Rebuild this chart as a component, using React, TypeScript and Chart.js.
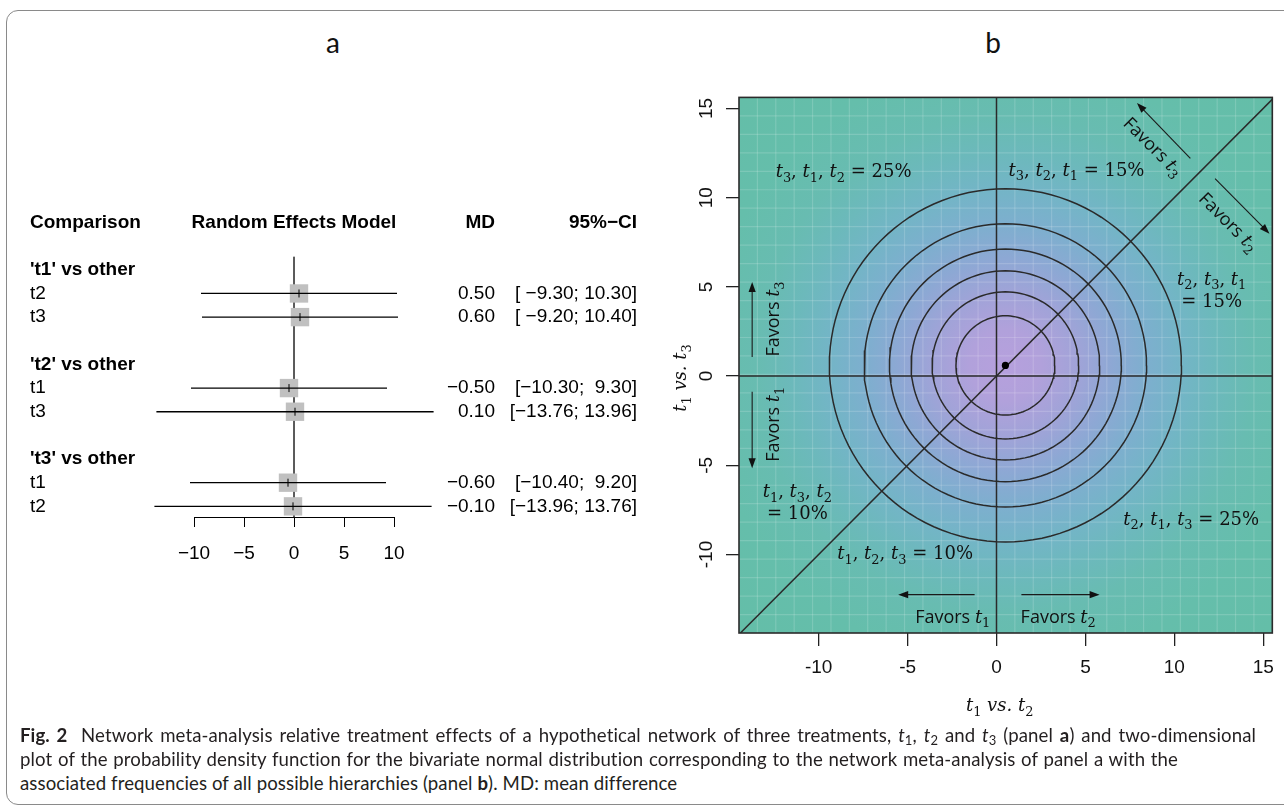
import React, { useEffect, useRef } from 'react';
import { Chart, registerables } from 'chart.js';
Chart.register(...registerables);

// ---------------- Panel a data (forest plot) ----------------
const groupTitles = ["'t1' vs other", "'t2' vs other", "'t3' vs other"];
const rowLabels = ['t2', 't3', 't1', 't3', 't1', 't2'];
const md = [0.5, 0.6, -0.5, 0.1, -0.6, -0.1];
const ciLow = [-9.3, -9.2, -10.3, -13.76, -10.4, -13.96];
const ciHigh = [10.3, 10.4, 9.3, 13.96, 9.2, 13.76];
const forestTicks = [-10, -5, 0, 5, 10];
const forestHeaders = ['Comparison', 'Random Effects Model', 'MD', '95%\u2212CI'];

// ---------------- Panel b data (bivariate density) ----------------
const meanT1vsT2 = 0.5;
const meanT1vsT3 = 0.6;
const contourRadii = [2.78, 4.12, 5.3, 6.52, 7.94, 9.9];
const densityTicks = [-10, -5, 0, 5, 10, 15];
const hierarchies = [
  ['t3', 't1', 't2'],
  ['t3', 't2', 't1'],
  ['t2', 't3', 't1'],
  ['t1', 't3', 't2'],
  ['t2', 't1', 't3'],
  ['t1', 't2', 't3'],
];
const hierarchyFreq = [25, 15, 15, 10, 25, 10];
const favorsLabels = ['Favors t_3', 'Favors t_1', 'Favors t_1', 'Favors t_2', 'Favors t_3', 'Favors t_2'];

// ---------------- layout (positions, not data) ----------------
const A_ROWS = { min: -1.824, max: 11.45 };
const B_RANGE = { xMin: -14.48, xMax: 15.51, yMin: -14.4, yMax: 15.62 };
const hierPos = [
  { x: -8.6, y: 11.5, split: false },
  { x: 4.5, y: 11.6, split: false },
  { x: 12.1, y: 4.85, split: true },
  { x: -11.2, y: -7.05, split: true },
  { x: 10.95, y: -7.98, split: false },
  { x: -5.14, y: -9.9, split: false },
];
const favorsPos = [
  { tx: -12.57, ty: 3.2, rot: -90, x1: -13.74, y1: 1.07, x2: -13.74, y2: 5.28 },
  { tx: -12.57, ty: -2.7, rot: -90, x1: -13.74, y1: -0.88, x2: -13.74, y2: -5.17 },
  { tx: -2.46, ty: -13.48, rot: 0, x1: -1.23, y1: -12.25, x2: -5.53, y2: -12.25 },
  { tx: 3.47, ty: -13.48, rot: 0, x1: 1.4, y1: -12.25, x2: 5.8, y2: -12.25 },
  { tx: 8.83, ty: 12.87, rot: 45, x1: 10.9, y1: 12.2, x2: 7.9, y2: 15.3 },
  { tx: 13.07, ty: 8.65, rot: 45, x1: 12.29, y1: 11.07, x2: 15.35, y2: 7.98 },
];

const MATH_FAM = '"DejaVu Serif"';
const SANS_FAM = '"Open Sans"';
const R_FAM = '"Liberation Sans", Arial, sans-serif';

type Seg = { t: string; math?: boolean; it?: boolean; sub?: boolean };

function parseMath(s: string): Seg[] {
  const out: Seg[] = [];
  let i = 0;
  while (i < s.length) {
    if (s[i] === 't' && s[i + 1] === '_') {
      out.push({ t: 't', math: true, it: true });
      out.push({ t: s[i + 2], math: true, sub: true });
      i += 3;
    } else {
      let j = i;
      while (j < s.length && !(s[j] === 't' && s[j + 1] === '_')) j++;
      out.push({ t: s.slice(i, j) });
      i = j;
    }
  }
  return out;
}

function drawRich(
  ctx: CanvasRenderingContext2D,
  segs: Seg[],
  cx: number,
  cy: number,
  size: number,
  plainFam: string,
  plainItalic = false
) {
  const fontOf = (s: Seg) => {
    const sz = s.sub ? size * 0.72 : size;
    const fam = s.math ? MATH_FAM : plainFam;
    const it = s.it || (!s.math && plainItalic) ? 'italic ' : '';
    return `${it}${sz}px ${fam}`;
  };
  const widths = segs.map((s) => {
    ctx.font = fontOf(s);
    return ctx.measureText(s.t).width;
  });
  const total = widths.reduce((a, b) => a + b, 0);
  let x = cx - total / 2;
  const base = cy + size * 0.36;
  ctx.textAlign = 'left';
  ctx.textBaseline = 'alphabetic';
  segs.forEach((s, k) => {
    ctx.font = fontOf(s);
    ctx.fillText(s.t, x, s.sub ? base + size * 0.24 : base);
    x += widths[k];
  });
}

function drawArrow(ctx: CanvasRenderingContext2D, x1: number, y1: number, x2: number, y2: number) {
  const a = Math.atan2(y2 - y1, x2 - x1);
  const L = 10;
  const W = 3.6;
  const c = Math.cos(a);
  const s = Math.sin(a);
  ctx.beginPath();
  ctx.moveTo(x1, y1);
  ctx.lineTo(x2 - c * L * 0.7, y2 - s * L * 0.7);
  ctx.stroke();
  ctx.beginPath();
  ctx.moveTo(x2, y2);
  ctx.lineTo(x2 - L * c + W * s, y2 - L * s - W * c);
  ctx.lineTo(x2 - L * c - W * s, y2 - L * s + W * c);
  ctx.closePath();
  ctx.fill();
}

const rowIndex = (i: number) => 4 * Math.floor(i / 2) + 2 + (i % 2);
const fmt = (v: number) => v.toFixed(2).replace('-', '\u2212');

function buildForest(canvas: HTMLCanvasElement) {
  const textPlugin = {
    id: 'forestText',
    afterDraw(chart: any) {
      const ctx: CanvasRenderingContext2D = chart.ctx;
      const ys = chart.scales.y;
      const xs = chart.scales.x;
      ctx.save();
      ctx.fillStyle = '#000';
      ctx.textBaseline = 'middle';
      const fs = 19;
      const hy = ys.getPixelForValue(-1);
      ctx.font = `bold ${fs}px ${R_FAM}`;
      ctx.textAlign = 'left';
      ctx.fillText(forestHeaders[0], 30, hy);
      ctx.textAlign = 'center';
      ctx.fillText(forestHeaders[1], xs.getPixelForValue(0), hy);
      ctx.textAlign = 'right';
      ctx.fillText(forestHeaders[2], 495, hy);
      ctx.fillText(forestHeaders[3], 637, hy);
      groupTitles.forEach((g, k) => {
        ctx.font = `bold ${fs}px ${R_FAM}`;
        ctx.textAlign = 'left';
        ctx.fillText(g, 30, ys.getPixelForValue(4 * k + 1));
      });
      ctx.font = `${fs}px ${R_FAM}`;
      rowLabels.forEach((lab, i) => {
        const y = ys.getPixelForValue(rowIndex(i));
        ctx.textAlign = 'left';
        ctx.fillText(lab, 30, y);
        ctx.textAlign = 'right';
        ctx.fillText(fmt(md[i]), 495, y);
        const ci = `[${fmt(ciLow[i]).padStart(6, ' ')}; ${fmt(ciHigh[i]).padStart(5, ' ')}]`;
        ctx.fillText(ci, 637, y);
      });
      ctx.restore();
    },
  };

  return new Chart(canvas, {
    type: 'scatter',
    data: {
      datasets: [
        {
          data: md.map((m, i) => ({ x: m, y: rowIndex(i) })),
          pointStyle: 'line',
          rotation: 90,
          pointRadius: 4,
          borderColor: '#000',
          borderWidth: 1,
          showLine: false,
          order: 0,
          clip: false,
        } as any,
        ...ciLow.map((lo, i) => ({
          data: [
            { x: lo, y: rowIndex(i) },
            { x: ciHigh[i], y: rowIndex(i) },
          ],
          showLine: true,
          borderColor: '#000',
          borderWidth: 1.3,
          pointRadius: 0,
          order: 1,
          clip: false,
        })),
        {
          data: md.map((m, i) => ({ x: m, y: rowIndex(i) })),
          pointStyle: 'rect',
          pointRadius: 13,
          backgroundColor: '#c0c0c0',
          borderWidth: 0,
          order: 2,
          clip: false,
        } as any,
        {
          data: [
            { x: 0, y: 0.45 },
            { x: 0, y: A_ROWS.max },
          ],
          showLine: true,
          borderColor: '#444',
          borderWidth: 1,
          pointRadius: 0,
          order: 3,
          clip: false,
        },
      ],
    },
    options: {
      responsive: false,
      animation: false,
      events: [],
      layout: { padding: { left: 194, right: 266, top: 2, bottom: 0 } },
      plugins: { legend: { display: false }, tooltip: { enabled: false } },
      scales: {
        x: {
          type: 'linear',
          min: -10,
          max: 10,
          afterBuildTicks: (s: any) => {
            s.ticks = forestTicks.map((v) => ({ value: v }));
          },
          afterFit: (s: any) => {
            s.height = 63;
          },
          grid: { drawOnChartArea: false, drawTicks: true, tickLength: 10, color: '#000', tickColor: '#000', lineWidth: 1 },
          border: { display: true, color: '#000', width: 1 },
          ticks: {
            padding: 15,
            color: '#000',
            font: { family: R_FAM, size: 19 },
            callback: (v: any) => String(v).replace('-', '\u2212'),
          },
        },
        y: { type: 'linear', display: false, min: A_ROWS.min, max: A_ROWS.max, reverse: true },
      },
    } as any,
    plugins: [textPlugin],
  });
}

function buildDensity(canvas: HTMLCanvasElement) {
  const bgPlugin = {
    id: 'densityBg',
    beforeDatasetsDraw(chart: any) {
      const { ctx, chartArea: a, scales } = chart;
      const cx = scales.x.getPixelForValue(meanT1vsT2);
      const cy = scales.y.getPixelForValue(meanT1vsT3);
      const R = Math.abs(scales.x.getPixelForValue(21) - scales.x.getPixelForValue(0));
      ctx.save();
      ctx.beginPath();
      ctx.rect(a.left, a.top, a.right - a.left, a.bottom - a.top);
      ctx.clip();
      const g = ctx.createRadialGradient(cx, cy, 0, cx, cy, R);
      const stops: [number, string][] = [
        [0, 'rgb(182,160,221)'],
        [2 / 21, 'rgb(177,161,219)'],
        [4 / 21, 'rgb(161,163,216)'],
        [6 / 21, 'rgb(141,168,212)'],
        [8 / 21, 'rgb(125,175,206)'],
        [10 / 21, 'rgb(115,181,198)'],
        [12 / 21, 'rgb(108,185,187)'],
        [14 / 21, 'rgb(104,188,177)'],
        [17 / 21, 'rgb(101,190,171)'],
        [1, 'rgb(100,190,168)'],
      ];
      stops.forEach(([o, c]) => g.addColorStop(o, c));
      ctx.fillStyle = g;
      ctx.fillRect(a.left, a.top, a.right - a.left, a.bottom - a.top);
      ctx.strokeStyle = 'rgba(255,255,255,0.16)';
      ctx.lineWidth = 1.2;
      const n = 29;
      const w = (a.right - a.left) / n;
      const h = (a.bottom - a.top) / n;
      for (let i = 1; i < n; i++) {
        ctx.beginPath();
        ctx.moveTo(a.left + i * w, a.top);
        ctx.lineTo(a.left + i * w, a.bottom);
        ctx.stroke();
        ctx.beginPath();
        ctx.moveTo(a.left, a.top + i * h);
        ctx.lineTo(a.right, a.top + i * h);
        ctx.stroke();
      }
      ctx.restore();
    },
    afterDatasetsDraw(chart: any) {
      const { ctx, chartArea: a, scales } = chart;
      const px = (v: number) => scales.x.getPixelForValue(v);
      const py = (v: number) => scales.y.getPixelForValue(v);
      ctx.save();
      ctx.strokeStyle = '#2b2b2b';
      ctx.lineWidth = 1.6;
      ctx.strokeRect(a.left, a.top, a.right - a.left, a.bottom - a.top);
      ctx.fillStyle = '#111';
      hierarchies.forEach((h, k) => {
        const p = hierPos[k];
        const order = h.map((t) => t.replace('t', 't_')).join(', ');
        const eq = `= ${hierarchyFreq[k]}%`;
        if (p.split) {
          drawRich(ctx, parseMath(order), px(p.x), py(p.y) - 11, 18, MATH_FAM);
          drawRich(ctx, parseMath(eq), px(p.x), py(p.y) + 11, 18, MATH_FAM);
        } else {
          drawRich(ctx, parseMath(`${order} ${eq}`), px(p.x), py(p.y), 18, MATH_FAM);
        }
      });
      ctx.strokeStyle = '#1a1a1a';
      ctx.fillStyle = '#111';
      ctx.lineWidth = 1.1;
      favorsPos.forEach((f, k) => {
        drawArrow(ctx, px(f.x1), py(f.y1), px(f.x2), py(f.y2));
        ctx.save();
        ctx.translate(px(f.tx), py(f.ty));
        ctx.rotate((f.rot * Math.PI) / 180);
        drawRich(ctx, parseMath(favorsLabels[k]), 0, 0, 18, SANS_FAM);
        ctx.restore();
      });
      ctx.restore();
    },
    afterDraw(chart: any) {
      const { ctx, chartArea: a } = chart;
      ctx.save();
      ctx.fillStyle = '#111';
      drawRich(ctx, parseMath('t_1 vs. t_2'), (a.left + a.right) / 2 - 6, 625, 18, MATH_FAM, true);
      ctx.translate(20, 298);
      ctx.rotate(-Math.PI / 2);
      drawRich(ctx, parseMath('t_1 vs. t_3'), 0, 0, 18, MATH_FAM, true);
      ctx.restore();
    },
  };

  const circles = contourRadii.map((r) =>
    Array.from({ length: 121 }, (_, k) => {
      const ang = (k / 120) * 2 * Math.PI;
      return { x: meanT1vsT2 + r * Math.cos(ang), y: meanT1vsT3 + r * Math.sin(ang) };
    })
  );
  const lineDs = (data: { x: number; y: number }[]) => ({
    data,
    showLine: true,
    borderColor: '#2a2a2a',
    borderWidth: 1.5,
    pointRadius: 0,
  });

  return new Chart(canvas, {
    type: 'scatter',
    data: {
      datasets: [
        {
          data: [{ x: meanT1vsT2, y: meanT1vsT3 }],
          pointRadius: 3.6,
          backgroundColor: '#000',
          borderWidth: 0,
        },
        ...circles.map((c) => lineDs(c)),
        lineDs([
          { x: 0, y: -20 },
          { x: 0, y: 20 },
        ]),
        lineDs([
          { x: -20, y: 0 },
          { x: 20, y: 0 },
        ]),
        lineDs([
          { x: -20, y: -20 },
          { x: 20, y: 20 },
        ]),
      ],
    },
    options: {
      responsive: false,
      animation: false,
      events: [],
      layout: { padding: { left: 0, right: 11, top: 17, bottom: 0 } },
      plugins: { legend: { display: false }, tooltip: { enabled: false } },
      scales: {
        x: {
          type: 'linear',
          min: B_RANGE.xMin,
          max: B_RANGE.xMax,
          afterBuildTicks: (s: any) => {
            s.ticks = densityTicks.map((v) => ({ value: v }));
          },
          afterFit: (s: any) => {
            s.height = 97;
          },
          grid: { drawOnChartArea: false, drawTicks: true, tickLength: 13, tickColor: '#222', lineWidth: 1.3 },
          border: { display: false },
          ticks: { padding: 10, color: '#111', font: { family: R_FAM, size: 19 } },
        },
        y: {
          type: 'linear',
          min: B_RANGE.yMin,
          max: B_RANGE.yMax,
          afterBuildTicks: (s: any) => {
            s.ticks = densityTicks.map((v) => ({ value: v }));
          },
          afterFit: (s: any) => {
            s.width = 79;
          },
          grid: { drawOnChartArea: false, drawTicks: true, tickLength: 13, tickColor: '#222', lineWidth: 1.3 },
          border: { display: false },
          ticks: {
            padding: 6,
            minRotation: 90,
            maxRotation: 90,
            crossAlign: 'center',
            color: '#111',
            font: { family: R_FAM, size: 19 },
          },
        },
      },
    } as any,
    plugins: [bgPlugin],
  });
}

const sub = (d: string) => (
  <>
    <i>t</i>
    <sub style={{ fontSize: '0.7em', verticalAlign: '-0.25em', lineHeight: 0 }}>{d}</sub>
  </>
);

export default function App() {
  const aRef = useRef<HTMLCanvasElement>(null);
  const bRef = useRef<HTMLCanvasElement>(null);
  useEffect(() => {
    const ca = buildForest(aRef.current!);
    const cb = buildDensity(bRef.current!);
    return () => {
      ca.destroy();
      cb.destroy();
    };
  }, []);

  const capLine: React.CSSProperties = {
    position: 'absolute',
    left: 20,
    fontFamily: 'Lato, "Open Sans", sans-serif',
    fontSize: 18.6,
    letterSpacing: '0.1px',
    color: '#231f20',
    lineHeight: '24px',
  };

  return (
    <div
      style={{
        position: 'absolute',
        left: 0,
        top: 0,
        width: 1284,
        height: 808,
        overflow: 'hidden',
        background: '#fff',
      }}
    >
      <div
        style={{
          position: 'absolute',
          left: 6,
          top: 10,
          width: 1320,
          height: 795,
          border: '1.5px solid #8a8a8a',
          borderRadius: '12px 0 0 12px',
          boxSizing: 'border-box',
        }}
      />
      <div
        style={{
          position: 'absolute',
          left: 313,
          top: 22,
          width: 40,
          textAlign: 'center',
          fontFamily: 'Lato, sans-serif',
          fontSize: 28,
          lineHeight: '40px',
          color: '#111',
        }}
      >
        a
      </div>
      <div
        style={{
          position: 'absolute',
          left: 973,
          top: 22,
          width: 40,
          textAlign: 'center',
          fontFamily: 'Lato, sans-serif',
          fontSize: 28,
          lineHeight: '40px',
          color: '#111',
        }}
      >
        b
      </div>
      <canvas ref={aRef} width={660} height={390} style={{ position: 'absolute', left: 0, top: 190 }} />
      <canvas ref={bRef} width={624} height={650} style={{ position: 'absolute', left: 660, top: 80 }} />
      <div style={{ ...capLine, top: 723, width: 1236, textAlign: 'justify', textAlignLast: 'justify' }}>
        <b>Fig. 2</b>&nbsp; Network meta-analysis relative treatment effects of a hypothetical network of three treatments,{' '}
        {sub('1')}, {sub('2')} and {sub('3')} (panel <b>a</b>) and two-dimensional
      </div>
      <div style={{ ...capLine, top: 747, width: 1158, textAlign: 'justify', textAlignLast: 'justify' }}>
        plot of the probability density function for the bivariate normal distribution corresponding to the network
        meta-analysis of panel a with the
      </div>
      <div style={{ ...capLine, top: 771, whiteSpace: 'nowrap' }}>
        associated frequencies of all possible hierarchies (panel <b>b</b>). MD: mean difference
      </div>
    </div>
  );
}
